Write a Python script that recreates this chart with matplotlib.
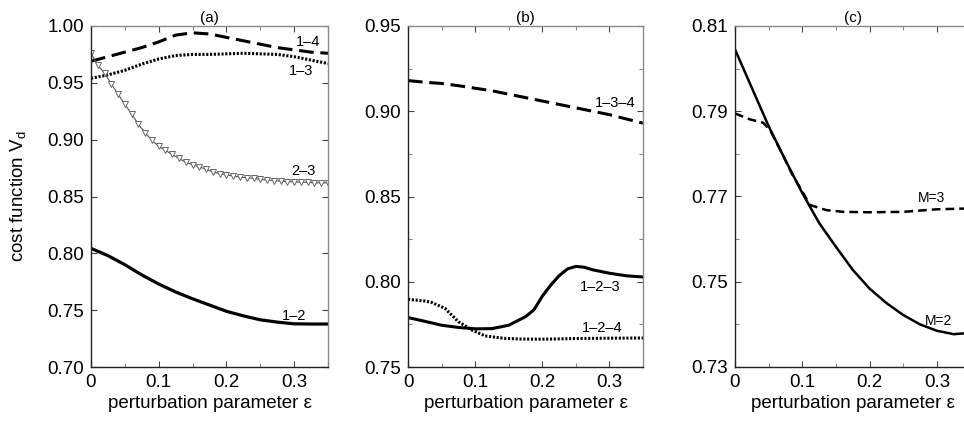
import matplotlib
matplotlib.use("Agg")
import matplotlib.pyplot as plt
import numpy as np
from matplotlib.ticker import MultipleLocator

plt.rcParams["font.family"] = ["Liberation Sans", "DejaVu Sans"]
plt.rcParams["mathtext.fontset"] = "custom"
plt.rcParams["mathtext.rm"] = "Liberation Sans"
plt.rcParams["mathtext.it"] = "Liberation Sans:italic"

# Datos
eps = [0, 0.025, 0.05, 0.075, 0.1, 0.125, 0.15, 0.175, 0.2, 0.225, 0.25, 0.275, 0.3, 0.325, 0.35]

# panel (a)
v_14 = [0.969, 0.973, 0.977, 0.981, 0.986, 0.992, 0.994, 0.993, 0.990, 0.987, 0.984, 0.981, 0.979, 0.977, 0.976]
v_13 = [0.954, 0.957, 0.961, 0.9665, 0.971, 0.974, 0.975, 0.975, 0.9755, 0.976, 0.9755, 0.975, 0.973, 0.970, 0.967]
v_12 = [0.8044, 0.798, 0.790, 0.781, 0.773, 0.766, 0.760, 0.7545, 0.749, 0.745, 0.7415, 0.7395, 0.738, 0.7378, 0.7378]
eps_23 = [0, 0.01, 0.02, 0.03, 0.04, 0.05, 0.06, 0.07, 0.08, 0.09, 0.1, 0.11, 0.12, 0.13, 0.14, 0.15,
          0.16, 0.17, 0.18, 0.19, 0.2, 0.21, 0.22, 0.23, 0.24, 0.25, 0.26, 0.27, 0.28, 0.29, 0.3,
          0.31, 0.32, 0.33, 0.34, 0.35]
v_23 = [0.976, 0.9655, 0.9585, 0.949, 0.940, 0.931, 0.9226, 0.9135, 0.906, 0.8995, 0.894, 0.8905,
        0.887, 0.8835, 0.880, 0.878, 0.876, 0.874, 0.8717, 0.870, 0.869, 0.868, 0.867, 0.8665,
        0.866, 0.865, 0.8645, 0.864, 0.8635, 0.863, 0.863, 0.8625, 0.8625, 0.862, 0.862, 0.862]

# panel (b)
v_134 = [0.918, 0.917, 0.9163, 0.915, 0.9135, 0.912, 0.910, 0.908, 0.906, 0.904, 0.902, 0.900, 0.898, 0.8955, 0.893]
eps_123 = [0, 0.025, 0.05, 0.075, 0.1, 0.125, 0.15, 0.1625, 0.175, 0.1875, 0.2, 0.2125, 0.225,
           0.2375, 0.25, 0.2625, 0.275, 0.3, 0.325, 0.35]
v_123 = [0.779, 0.7768, 0.7745, 0.7732, 0.7724, 0.7725, 0.7745, 0.777, 0.7795, 0.7835, 0.7915,
         0.798, 0.8035, 0.8075, 0.809, 0.8085, 0.807, 0.805, 0.8035, 0.8028]
eps_124 = [0, 0.025, 0.035, 0.055, 0.075, 0.095, 0.115, 0.144, 0.169, 0.2, 0.25, 0.3, 0.35]
v_124 = [0.7897, 0.7887, 0.7879, 0.7844, 0.7766, 0.7717, 0.7682, 0.7668, 0.7664, 0.7663, 0.7667, 0.7669, 0.767]

# panel (c)
v_m2 = [0.8045, 0.7955, 0.7865, 0.7785, 0.7708, 0.7638, 0.7582, 0.7528, 0.7484, 0.745, 0.7422, 0.740, 0.7385, 0.7377, 0.738]
eps_m3 = [0, 0.022, 0.042, 0.052, 0.07, 0.085, 0.1, 0.1115, 0.136, 0.161, 0.2, 0.25, 0.3, 0.35]
v_m3 = [0.7895, 0.7881, 0.7873, 0.7856, 0.7801, 0.7752, 0.7712, 0.768, 0.7668, 0.7664, 0.7663, 0.7664, 0.767, 0.7672]

fig = plt.figure(figsize=(9.64, 4.21), dpi=100)
W, H = 964, 421


def make_ax(left, right, top=26, bottom=367):
    return fig.add_axes([left / W, (H - bottom) / H, (right - left) / W, (bottom - top) / H])


ax_a = make_ax(91, 328)
ax_b = make_ax(408, 643)
ax_c = make_ax(735, 970.5)

ylims = [(0.70, 1.00), (0.75, 0.95), (0.73, 0.81)]
yticks = [[0.70, 0.75, 0.80, 0.85, 0.90, 0.95, 1.00],
          [0.75, 0.80, 0.85, 0.90, 0.95],
          [0.73, 0.75, 0.77, 0.79, 0.81]]
yminor = [None, 0.025, 0.01]
titulos = ["(a)", "(b)", "(c)"]

for ax, yl, yt, ym, t in zip([ax_a, ax_b, ax_c], ylims, yticks, yminor, titulos):
    ax.set_xlim(0, 0.35)
    ax.set_ylim(*yl)
    ax.set_xticks([0, 0.1, 0.2, 0.3])
    ax.set_xticklabels(["0", "0.1", "0.2", "0.3"])
    ax.xaxis.set_minor_locator(MultipleLocator(0.05))
    ax.set_yticks(yt)
    ax.set_yticklabels(["%.2f" % v for v in yt])
    if ym:
        ax.yaxis.set_minor_locator(MultipleLocator(ym))
    ax.tick_params(which="both", direction="in", top=True, right=True, labelsize=13.5,
                   color="#444444", width=0.8, pad=5)
    ax.tick_params(which="major", length=4.5)
    ax.tick_params(which="minor", length=3, color="#888888")
    for s in ["left", "bottom"]:
        ax.spines[s].set_color("#222222")
        ax.spines[s].set_linewidth(1.0)
    for s in ["top", "right"]:
        ax.spines[s].set_color("#8a8a8a")
        ax.spines[s].set_linewidth(1.0)
    ax.set_xlabel("perturbation parameter ε", fontsize=13.5, labelpad=3)
    ax.set_title(t, fontsize=11, pad=3)

ax_a.set_ylabel(r"cost function V$_\mathrm{d}$", fontsize=13.5, labelpad=14)

# (a)
ax_a.plot(eps, v_14, color="black", lw=2.2, dashes=(4.8, 2.2))
ax_a.plot(eps, v_13, color="black", lw=2.2, linestyle=(0, (0.7, 0.55)))
ax_a.plot(eps_23, v_23, color="#555555", lw=0.8, marker="v", ms=4.5, mfc="white",
          mec="#666666", mew=0.7)
ax_a.plot(eps, v_12, color="black", lw=2.3)
ax_a.text(0.3205, 0.9855, "1–4", fontsize=10.5, ha="center", va="center")
ax_a.text(0.3106, 0.9607, "1–3", fontsize=10.5, ha="center", va="center")
ax_a.text(0.313, 0.872, "2–3", fontsize=10.5, ha="center", va="center")
ax_a.text(0.300, 0.7448, "1–2", fontsize=10.5, ha="center", va="center")

# (b)
ax_b.plot(eps, v_134, color="black", lw=2.2, dashes=(4.8, 2.2))
ax_b.plot(eps_124, v_124, color="black", lw=2.2, linestyle=(0, (0.7, 0.55)))
ax_b.plot(eps_123, v_123, color="black", lw=2.2)
ax_b.text(0.309, 0.9047, "1–3–4", fontsize=10.5, ha="center", va="center")
ax_b.text(0.286, 0.797, "1–2–3", fontsize=10.5, ha="center", va="center")
ax_b.text(0.2885, 0.7727, "1–2–4", fontsize=10.5, ha="center", va="center")

# (c)
ax_c.plot(eps_m3, v_m3, color="black", lw=1.8, dashes=(3.5, 2))
ax_c.plot(eps, v_m2, color="black", lw=1.8)
ax_c.text(0.2927, 0.7697, "M=3", fontsize=10, ha="center", va="center")
ax_c.text(0.3026, 0.7409, "M=2", fontsize=10, ha="center", va="center")

fig.savefig("out.png", dpi=100)
